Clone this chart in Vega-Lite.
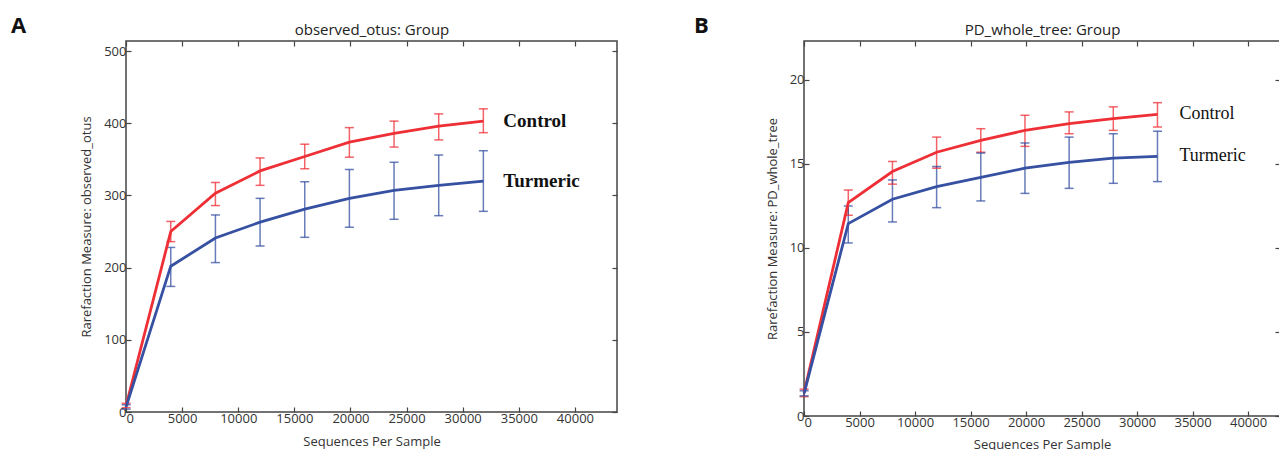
{
  "$schema": "https://vega.github.io/schema/vega-lite/v6.json",
  "background": "white",
  "padding": {"left": 10, "top": 14, "right": 0, "bottom": 0},
  "datasets": {
    "otus": [
      {"group": "Control", "seq": 10, "mean": 9, "lo": 6, "hi": 12},
      {"group": "Control", "seq": 3989, "mean": 250, "lo": 236, "hi": 264},
      {"group": "Control", "seq": 7968, "mean": 303, "lo": 286, "hi": 318},
      {"group": "Control", "seq": 11947, "mean": 334, "lo": 314, "hi": 352},
      {"group": "Control", "seq": 15926, "mean": 354, "lo": 337, "hi": 371},
      {"group": "Control", "seq": 19905, "mean": 374, "lo": 353, "hi": 394},
      {"group": "Control", "seq": 23884, "mean": 386, "lo": 367, "hi": 403},
      {"group": "Control", "seq": 27863, "mean": 396, "lo": 377, "hi": 413},
      {"group": "Control", "seq": 31842, "mean": 403, "lo": 387, "hi": 420},
      {"group": "Turmeric", "seq": 10, "mean": 7, "lo": 4, "hi": 10},
      {"group": "Turmeric", "seq": 3989, "mean": 202, "lo": 174, "hi": 228},
      {"group": "Turmeric", "seq": 7968, "mean": 241, "lo": 207, "hi": 273},
      {"group": "Turmeric", "seq": 11947, "mean": 263, "lo": 230, "hi": 296},
      {"group": "Turmeric", "seq": 15926, "mean": 281, "lo": 242, "hi": 319},
      {"group": "Turmeric", "seq": 19905, "mean": 296, "lo": 256, "hi": 336},
      {"group": "Turmeric", "seq": 23884, "mean": 307, "lo": 267, "hi": 346},
      {"group": "Turmeric", "seq": 27863, "mean": 314, "lo": 272, "hi": 356},
      {"group": "Turmeric", "seq": 31842, "mean": 320, "lo": 278, "hi": 362}
    ],
    "pd": [
      {"group": "Control", "seq": 10, "mean": 1.4, "lo": 1.15, "hi": 1.6},
      {"group": "Control", "seq": 3989, "mean": 12.7, "lo": 11.95, "hi": 13.45},
      {"group": "Control", "seq": 7968, "mean": 14.55, "lo": 13.8, "hi": 15.15},
      {"group": "Control", "seq": 11947, "mean": 15.7, "lo": 14.75, "hi": 16.6},
      {"group": "Control", "seq": 15926, "mean": 16.4, "lo": 15.7, "hi": 17.1},
      {"group": "Control", "seq": 19905, "mean": 17.0, "lo": 16.05, "hi": 17.9},
      {"group": "Control", "seq": 23884, "mean": 17.4, "lo": 16.8, "hi": 18.1},
      {"group": "Control", "seq": 27863, "mean": 17.7, "lo": 17.0, "hi": 18.4},
      {"group": "Control", "seq": 31842, "mean": 17.95, "lo": 17.2, "hi": 18.65},
      {"group": "Turmeric", "seq": 10, "mean": 1.35, "lo": 1.2, "hi": 1.5},
      {"group": "Turmeric", "seq": 3989, "mean": 11.45, "lo": 10.3, "hi": 12.5},
      {"group": "Turmeric", "seq": 7968, "mean": 12.9, "lo": 11.55, "hi": 14.05},
      {"group": "Turmeric", "seq": 11947, "mean": 13.65, "lo": 12.4, "hi": 14.85},
      {"group": "Turmeric", "seq": 15926, "mean": 14.2, "lo": 12.8, "hi": 15.65},
      {"group": "Turmeric", "seq": 19905, "mean": 14.75, "lo": 13.25, "hi": 16.25},
      {"group": "Turmeric", "seq": 23884, "mean": 15.1, "lo": 13.55, "hi": 16.6},
      {"group": "Turmeric", "seq": 27863, "mean": 15.35, "lo": 13.85, "hi": 16.8},
      {"group": "Turmeric", "seq": 31842, "mean": 15.45, "lo": 13.95, "hi": 16.95}
    ]
  },
  "spacing": 187,
  "bounds": "flush",
  "hconcat": [
    {
      "width": 491,
      "height": 371,
      "title": {"text": "A", "anchor": "start", "frame": "group", "dx": -115, "fontSize": 22, "fontWeight": "bold", "font": "Open Sans", "color": "#111", "offset": -16},
      "data": {"name": "otus"},
      "layer": [
        {
          "mark": {"type": "rule", "strokeWidth": 1.5, "opacity": 0.75},
          "encoding": {
            "x": {"field": "seq", "type": "quantitative", "scale": {"domain": [0, 43750], "nice": false},
              "axis": {"orient": "bottom", "values": [0, 5000, 10000, 15000, 20000, 25000, 30000, 35000, 40000], "format": "d", "title": "Sequences Per Sample", "titlePadding": 10}},
            "y": {"field": "lo", "type": "quantitative", "scale": {"domain": [0, 514], "nice": false},
              "axis": {"orient": "left", "values": [0, 100, 200, 300, 400, 500], "title": "Rarefaction Measure: observed_otus", "titlePadding": 10}},
            "y2": {"field": "hi"},
            "color": {"field": "group", "type": "nominal", "scale": {"domain": ["Control", "Turmeric"], "range": ["#ee2f36", "#3650a2"]}, "legend": null}
          }
        },
        {
          "mark": {"type": "tick", "orient": "horizontal", "size": 9, "thickness": 1.5, "opacity": 0.75},
          "encoding": {
            "x": {"field": "seq", "type": "quantitative", "axis": null},
            "y": {"field": "lo", "type": "quantitative", "axis": null},
            "color": {"field": "group", "type": "nominal"}
          }
        },
        {
          "mark": {"type": "tick", "orient": "horizontal", "size": 9, "thickness": 1.5, "opacity": 0.75},
          "encoding": {
            "x": {"field": "seq", "type": "quantitative", "axis": null},
            "y": {"field": "hi", "type": "quantitative", "axis": null},
            "color": {"field": "group", "type": "nominal"}
          }
        },
        {
          "mark": {"type": "line", "strokeWidth": 2.8},
          "encoding": {
            "x": {"field": "seq", "type": "quantitative", "axis": null},
            "y": {"field": "mean", "type": "quantitative", "axis": null},
            "color": {"field": "group", "type": "nominal"}
          }
        },
        {
          "transform": [{"filter": "datum.seq > 30000"}],
          "mark": {"type": "text", "align": "left", "baseline": "middle", "dx": 20, "font": "Liberation Serif", "fontSize": 19, "fontWeight": "bold", "color": "#111"},
          "encoding": {
            "x": {"field": "seq", "type": "quantitative", "axis": null},
            "y": {"field": "mean", "type": "quantitative", "axis": null},
            "text": {"field": "group"}
          }
        },
        {
          "mark": {"type": "point", "opacity": 0},
          "encoding": {
            "x": {"field": "seq", "type": "quantitative",
              "axis": {"orient": "top", "labels": false, "values": [0, 5000, 10000, 15000, 20000, 25000, 30000, 35000, 40000], "title": "observed_otus: Group", "titleFontSize": 15, "titlePadding": 3, "titleColor": "#222"}},
            "y": {"field": "mean", "type": "quantitative",
              "axis": {"orient": "right", "labels": false, "values": [0, 100, 200, 300, 400, 500], "title": null}}
          }
        }
      ],
      "resolve": {"axis": {"x": "independent", "y": "independent"}}
    },
    {
      "width": 476,
      "height": 375,
      "title": {"text": "B", "anchor": "start", "frame": "group", "dx": -110, "fontSize": 22, "fontWeight": "bold", "font": "Open Sans", "color": "#111", "offset": -16},
      "data": {"name": "pd"},
      "layer": [
        {
          "mark": {"type": "rule", "strokeWidth": 1.5, "opacity": 0.75},
          "encoding": {
            "x": {"field": "seq", "type": "quantitative", "scale": {"domain": [0, 42880], "nice": false},
              "axis": {"orient": "bottom", "values": [0, 5000, 10000, 15000, 20000, 25000, 30000, 35000, 40000], "format": "d", "title": "Sequences Per Sample", "titlePadding": 9}},
            "y": {"field": "lo", "type": "quantitative", "scale": {"domain": [0, 22.32], "nice": false},
              "axis": {"orient": "left", "values": [0, 5, 10, 15, 20], "title": "Rarefaction Measure: PD_whole_tree", "titlePadding": 10}},
            "y2": {"field": "hi"},
            "color": {"field": "group", "type": "nominal", "scale": {"domain": ["Control", "Turmeric"], "range": ["#ee2f36", "#3650a2"]}, "legend": null}
          }
        },
        {
          "mark": {"type": "tick", "orient": "horizontal", "size": 9, "thickness": 1.5, "opacity": 0.75},
          "encoding": {
            "x": {"field": "seq", "type": "quantitative", "axis": null},
            "y": {"field": "lo", "type": "quantitative", "axis": null},
            "color": {"field": "group", "type": "nominal"}
          }
        },
        {
          "mark": {"type": "tick", "orient": "horizontal", "size": 9, "thickness": 1.5, "opacity": 0.75},
          "encoding": {
            "x": {"field": "seq", "type": "quantitative", "axis": null},
            "y": {"field": "hi", "type": "quantitative", "axis": null},
            "color": {"field": "group", "type": "nominal"}
          }
        },
        {
          "mark": {"type": "line", "strokeWidth": 2.8},
          "encoding": {
            "x": {"field": "seq", "type": "quantitative", "axis": null},
            "y": {"field": "mean", "type": "quantitative", "axis": null},
            "color": {"field": "group", "type": "nominal"}
          }
        },
        {
          "transform": [{"filter": "datum.seq > 30000"}],
          "mark": {"type": "text", "align": "left", "baseline": "middle", "dx": 22, "font": "Liberation Serif", "fontSize": 18, "color": "#111"},
          "encoding": {
            "x": {"field": "seq", "type": "quantitative", "axis": null},
            "y": {"field": "mean", "type": "quantitative", "axis": null},
            "text": {"field": "group"}
          }
        },
        {
          "mark": {"type": "point", "opacity": 0},
          "encoding": {
            "x": {"field": "seq", "type": "quantitative",
              "axis": {"orient": "top", "labels": false, "values": [0, 5000, 10000, 15000, 20000, 25000, 30000, 35000, 40000], "title": "PD_whole_tree: Group", "titleFontSize": 15, "titlePadding": 3, "titleColor": "#222"}},
            "y": {"field": "mean", "type": "quantitative",
              "axis": {"orient": "right", "labels": false, "values": [0, 5, 10, 15, 20], "title": null}}
          }
        }
      ],
      "resolve": {"axis": {"x": "independent", "y": "independent"}}
    }
  ],
  "config": {
    "view": {"stroke": "#444", "strokeWidth": 1.5},
    "axis": {
      "domain": false,
      "grid": false,
      "labelFont": "Open Sans",
      "labelFontSize": 13,
      "labelColor": "#333",
      "labelPadding": 5,
      "titleFont": "Open Sans",
      "titleFontSize": 13,
      "titleFontWeight": "normal",
      "titleColor": "#333",
      "tickColor": "#444",
      "tickSize": -5,
      "tickWidth": 1.2
    }
  }
}
